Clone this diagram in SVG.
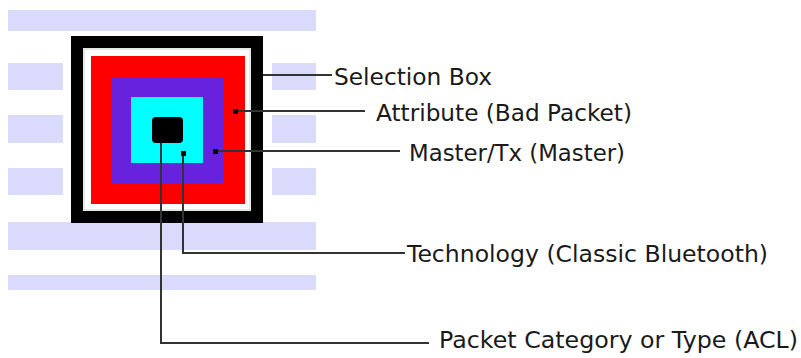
<svg xmlns="http://www.w3.org/2000/svg" width="801" height="358" viewBox="0 0 801 358">
<style>
.stripe{fill:#dadafc}
.lbl{font-family:"DejaVu Sans","Liberation Sans",sans-serif;font-size:23px;fill:#1a1a1a}
.wire{fill:none;stroke:#333;stroke-width:2}
.dot{fill:#000}
</style>
<rect width="801" height="358" fill="#fff"/>
<g id="background">
<rect class="stripe" x="8" y="10" width="308" height="21"/>
<rect class="stripe" x="8" y="63" width="308" height="27"/>
<rect class="stripe" x="8" y="115" width="308" height="28"/>
<rect class="stripe" x="8" y="168" width="308" height="27"/>
<rect class="stripe" x="8" y="222" width="308" height="28"/>
<rect class="stripe" x="8" y="275" width="308" height="15"/>
<rect x="63" y="31" width="209" height="191" fill="#fff"/>
</g>
<g id="selection-box">
<rect x="77" y="42" width="180" height="175" fill="#fff" stroke="#000" stroke-width="12"/>
<rect x="84" y="49" width="166" height="161" fill="none" stroke="#c8d0d0" stroke-width="1"/>
</g>
<g id="attribute">
<rect x="91" y="56" width="154" height="148" fill="#ff0000"/>
</g>
<g id="master">
<rect x="112" y="77" width="111" height="106" fill="#6622dd"/>
</g>
<g id="technology">
<rect x="131" y="97" width="72" height="66" fill="#00ffff"/>
</g>
<g id="packet-category">
<rect x="152" y="117" width="31" height="26" rx="4" fill="#000"/>
</g>
<g id="connectors">
<path class="wire" d="M263 75H332"/>
<path class="wire" d="M235 111H365"/>
<path class="wire" d="M215 151H400"/>
<path class="wire" d="M183 153V253H405"/>
<path class="wire" d="M161 143V343H429"/>
<rect class="dot" x="233" y="109" width="5" height="5"/>
<rect class="dot" x="213" y="149" width="5" height="5"/>
<rect class="dot" x="181" y="151" width="5" height="5"/>
</g>
<g id="labels">
<text class="lbl" x="334" y="85" textLength="158" lengthAdjust="spacingAndGlyphs">Selection Box</text>
<text class="lbl" x="376" y="121" textLength="256" lengthAdjust="spacingAndGlyphs">Attribute (Bad Packet)</text>
<text class="lbl" x="409" y="161" textLength="216" lengthAdjust="spacingAndGlyphs">Master/Tx (Master)</text>
<text class="lbl" x="407" y="262" textLength="361" lengthAdjust="spacingAndGlyphs">Technology (Classic Bluetooth)</text>
<text class="lbl" x="439" y="348" textLength="359" lengthAdjust="spacingAndGlyphs">Packet Category or Type (ACL)</text>
</g>
</svg>
